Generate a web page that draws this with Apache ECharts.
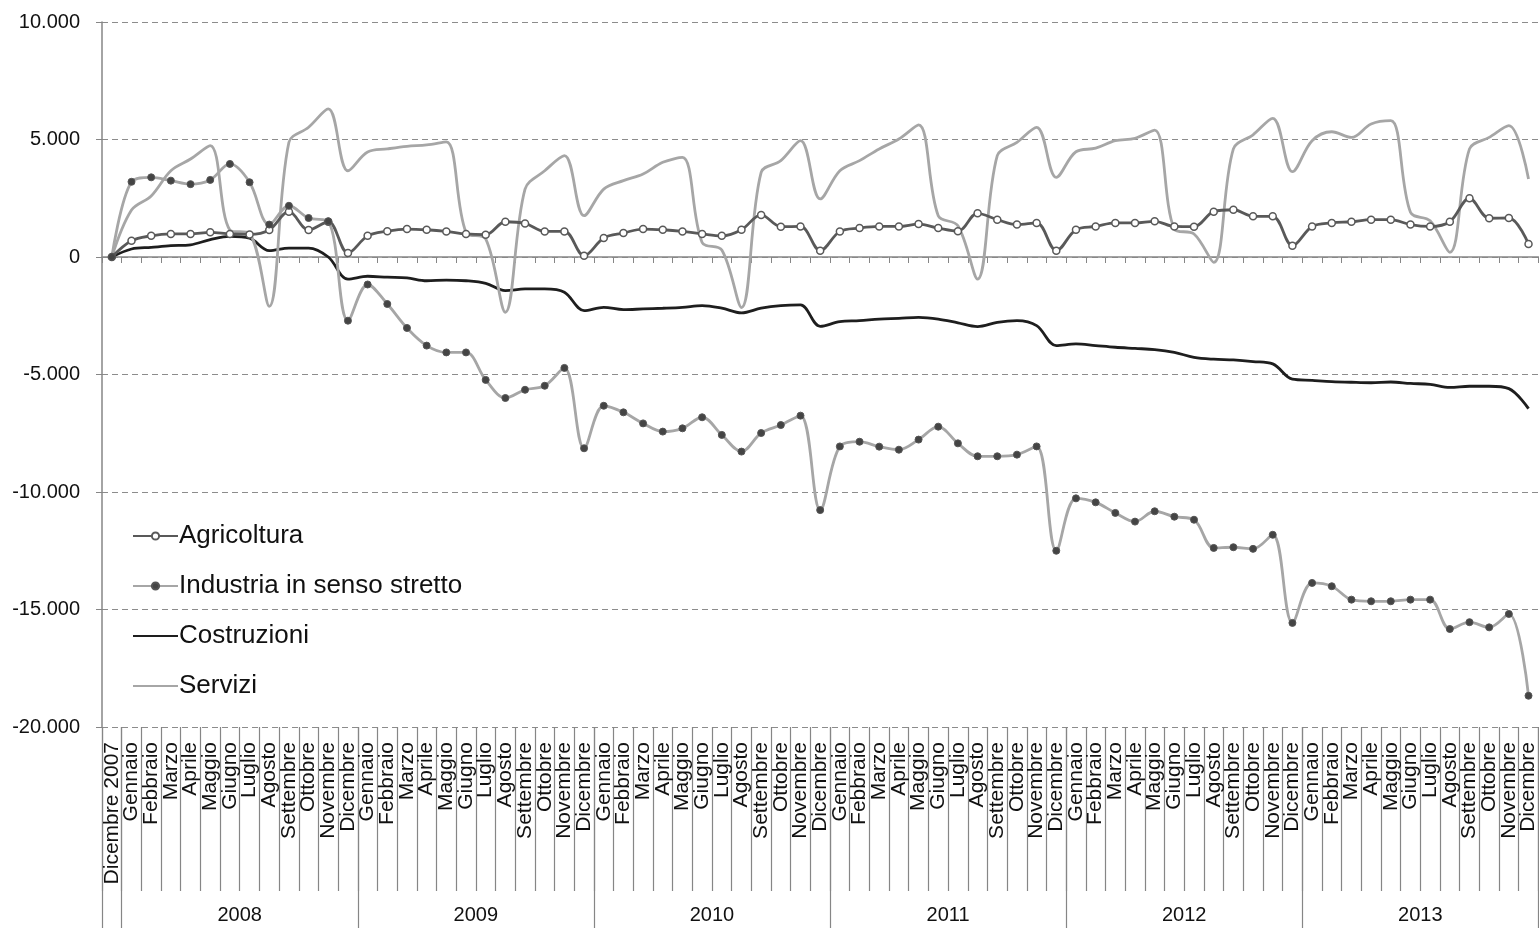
<!DOCTYPE html>
<html>
<head>
<meta charset="utf-8">
<script src="https://cdn.jsdelivr.net/npm/echarts@6/dist/echarts.min.js"></script>
<style>
  html, body { margin: 0; padding: 0; background: #fff; }
  #main { width: 1539px; height: 928px; }
</style>
</head>
<body>
<div id="main"></div>
<script>
var monthNames = ['Gennaio', 'Febbraio', 'Marzo', 'Aprile', 'Maggio', 'Giugno',
  'Luglio', 'Agosto', 'Settembre', 'Ottobre', 'Novembre', 'Dicembre'];
var years = ['2008', '2009', '2010', '2011', '2012', '2013'];

var months = ['Dicembre 2007'];
for (var y = 0; y < years.length; y++) {
  for (var m = 0; m < monthNames.length; m++) months.push(monthNames[m]);
}

var agricoltura = [0, 690, 900, 980, 980, 1050, 980, 960, 1150, 1930, 1150, 1500,
  170, 900, 1100, 1190, 1160, 1090, 980, 950, 1500, 1430, 1090, 1090,
  55, 810, 1020, 1190, 1160, 1090, 980, 900, 1160, 1790, 1290, 1300,
  270, 1090, 1230, 1300, 1300, 1400, 1230, 1100, 1860, 1590, 1380, 1450,
  270, 1160, 1300, 1450, 1450, 1520, 1300, 1290, 1930, 2010, 1730, 1730,
  480, 1300, 1450, 1500, 1590, 1590, 1380, 1300, 1500, 2500, 1650, 1660,
  550];

var industria = [0, 3200, 3390, 3250, 3100, 3280, 3960, 3180, 1380, 2180, 1660, 1520,
  -2710, -1170, -2000, -3020, -3770, -4060, -4060, -5230, -6000, -5650, -5480, -4720,
  -8140, -6330, -6610, -7080, -7430, -7290, -6820, -7570, -8280, -7490, -7150, -6750,
  -10770, -8060, -7860, -8070, -8200, -7770, -7220, -7930, -8480, -8480, -8410, -8060,
  -12500, -10270, -10440, -10890, -11260, -10820, -11050, -11180, -12380, -12350, -12420, -11820,
  -15570, -13870, -14010, -14580, -14650, -14650, -14580, -14580, -15830, -15540, -15760, -15190,
  -18670];

var costruzioni = [0, 340, 410, 480, 520, 740, 880, 800, 270, 380, 380, 0,
  -940, -820, -860, -890, -1010, -980, -1010, -1120, -1430, -1360, -1360, -1500,
  -2280, -2140, -2240, -2210, -2180, -2140, -2070, -2180, -2380, -2180, -2070, -2040,
  -2950, -2750, -2710, -2640, -2610, -2570, -2640, -2800, -2960, -2780, -2710, -2920,
  -3770, -3700, -3770, -3840, -3890, -3940, -4060, -4270, -4350, -4380, -4450, -4550,
  -5200, -5250, -5300, -5330, -5350, -5320, -5380, -5420, -5550, -5500, -5500, -5600,
  -6450];

var servizi = [0, 2000, 2600, 3670, 4170, 4740, 1150, 1000, -2100, 4880, 5520, 6300,
  3670, 4470, 4600, 4710, 4770, 4900, 1050, 770, -2350, 2890, 3670, 4310,
  1760, 2890, 3250, 3530, 4030, 4240, 620, 300, -2150, 3600, 4100, 4950,
  2470, 3670, 4100, 4600, 5020, 5620, 1760, 1330, -940, 4310, 4880, 5520,
  3390, 4480, 4630, 4950, 5050, 5400, 1190, 980, -230, 4600, 5200, 5900,
  3630, 4950, 5330, 5090, 5660, 5800, 1900, 1540, 200, 4600, 5090, 5590,
  3320];

// year bands on a 0..73 boundary scale (boundary k sits left of month k)
var yearTicks = [0, 1];
var yearCenters = [];
for (var k = 0; k < years.length; k++) {
  yearTicks.push(1 + 12 * (k + 1));
  yearCenters.push(1 + 12 * k + 6);
}

var FONT = "'Liberation Sans', Arial, sans-serif";
var AXIS = '#868686';
var TXT = '#111';

function fmt(v) {
  var s = String(Math.abs(v)).replace(/\B(?=(\d{3})+(?!\d))/g, '.');
  return (v < 0 ? '-' : '') + s;
}

var chart = echarts.init(document.getElementById('main'));

chart.setOption({
  animation: false,
  textStyle: { fontFamily: FONT },
  grid: { left: 102, top: 22, width: 1440, height: 705 },
  legend: {
    orient: 'vertical',
    left: 132,
    top: 523,
    padding: 0,
    itemWidth: 45,
    itemHeight: 9,
    itemGap: 24,
    selectedMode: false,
    data: [
      { name: 'Agricoltura' },
      { name: 'Industria in senso stretto' },
      { name: 'Costruzioni', itemStyle: { opacity: 0 } },
      { name: 'Servizi', itemStyle: { opacity: 0 } }
    ],
    textStyle: { fontSize: 26, color: TXT, fontFamily: FONT, padding: [0, 0, 0, -4] }
  },
  xAxis: [{
    type: 'category',
    data: months,
    axisLine: { onZero: true, lineStyle: { color: AXIS, width: 1.5 } },
    axisTick: { show: true, interval: 0, length: 6, lineStyle: { color: AXIS } },
    axisLabel: { show: false },
    splitLine: { show: false }
  }, {
    type: 'category',
    data: months,
    position: 'bottom',
    axisLine: { show: false, onZero: false },
    axisTick: { show: true, interval: 0, length: 164, lineStyle: { color: AXIS, width: 1.2 } },
    axisLabel: {
      interval: 0, rotate: 90, margin: 15,
      fontSize: 21, color: TXT, fontFamily: FONT
    },
    splitLine: { show: false }
  }, {
    type: 'value',
    min: 0,
    max: 73,
    position: 'bottom',
    axisLine: { show: false, onZero: false },
    axisTick: { show: true, length: 205, customValues: yearTicks, lineStyle: { color: AXIS, width: 1.2 } },
    axisLabel: {
      customValues: yearCenters,
      margin: 178,
      fontSize: 20, color: TXT, fontFamily: FONT,
      formatter: function (v) { return years[yearCenters.indexOf(v)] || ''; }
    },
    splitLine: { show: false }
  }],
  yAxis: {
    type: 'value',
    min: -20000,
    max: 10000,
    interval: 5000,
    axisLine: { show: true, lineStyle: { color: AXIS, width: 1.5 } },
    axisTick: { show: true, length: 6, lineStyle: { color: AXIS } },
    axisLabel: { formatter: fmt, fontSize: 20, color: TXT, margin: 22, fontFamily: FONT },
    splitLine: { show: true, lineStyle: { color: '#8c8c8c', type: [6, 4], width: 1.2 } }
  },
  series: [{
    name: 'Agricoltura',
    type: 'line',
    data: agricoltura,
    smooth: 0.35,
    symbol: 'circle',
    symbolSize: 7,
    lineStyle: { color: '#595959', width: 2.8 },
    itemStyle: { color: '#ffffff', borderColor: '#595959', borderWidth: 1.5 },
    z: 3
  }, {
    name: 'Industria in senso stretto',
    type: 'line',
    data: industria,
    smooth: 0.35,
    symbol: 'circle',
    symbolSize: 7,
    lineStyle: { color: '#a6a6a6', width: 2.8 },
    itemStyle: { color: '#444444', borderColor: '#555555', borderWidth: 1 },
    z: 3
  }, {
    name: 'Costruzioni',
    type: 'line',
    data: costruzioni,
    smooth: 0.35,
    symbol: 'none',
    lineStyle: { color: '#1e1e1e', width: 2.8 },
    itemStyle: { color: '#1e1e1e' },
    z: 2
  }, {
    name: 'Servizi',
    type: 'line',
    data: servizi,
    smooth: 0.35,
    symbol: 'none',
    lineStyle: { color: '#a6a6a6', width: 2.8 },
    itemStyle: { color: '#a6a6a6' },
    z: 2
  }]
});
</script>
</body>
</html>
